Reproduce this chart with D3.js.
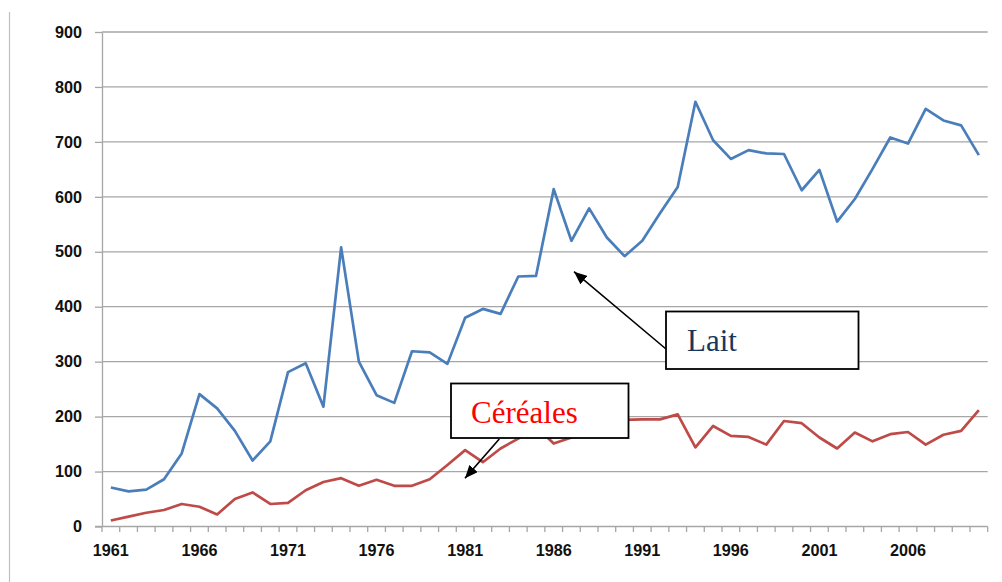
<!DOCTYPE html>
<html>
<head>
<meta charset="utf-8">
<script src="https://cdn.jsdelivr.net/npm/d3@7/dist/d3.min.js"></script>
<style>
  html, body { margin: 0; padding: 0; background: #fff; }
  svg { display: block; }
</style>
</head>
<body>
<svg id="chart" width="1002" height="582"></svg>
<script>
// ---- Data ----
const years = d3.range(1961, 2011);
const tickYears = [1961, 1966, 1971, 1976, 1981, 1986, 1991, 1996, 2001, 2006];
const yTicks = [0, 100, 200, 300, 400, 500, 600, 700, 800, 900];

const lait = [71, 64, 67, 86, 133, 241, 215, 174, 120, 155,
              281, 297, 218, 508, 300, 239, 225, 319, 317, 296,
              380, 396, 387, 455, 456, 614, 520, 579, 526, 492,
              520, 570, 618, 773, 703, 669, 685, 679, 678, 612,
              649, 555, 596, 651, 708, 697, 760, 739, 730, 676];

const cereales = [11, 18, 25, 30, 41, 36, 22, 50, 62, 41,
                  43, 66, 81, 88, 74, 85, 74, 74, 86, 112,
                  139, 117, 142, 160, 182, 151, 162, 173, 188, 194,
                  195, 195, 204, 144, 183, 165, 163, 149, 192, 188,
                  162, 142, 171, 155, 168, 172, 149, 167, 174, 212];

const seriesNames = ["Lait", "Céréales"];

// ---- Layout ----
const svg = d3.select("#chart");
const mLeft = 102, mRight = 987.7, mTop = 32, mBottom = 526.5;

const x = d3.scaleBand().domain(years).range([mLeft, mRight]).paddingInner(0).paddingOuter(0);
const xc = d => x(d) + x.bandwidth() / 2;
const y = d3.scaleLinear().domain([0, 900]).range([mBottom, mTop]);

const gridColor = "#a6a6a6";
const tickFont = 16.2;

// outer frame fragment (left)
svg.append("line").attr("x1", 9.5).attr("x2", 9.5).attr("y1", 12).attr("y2", 582)
   .attr("stroke", "#bfbfbf").attr("stroke-width", 1.2);

// y axis + ticks
const yAxis = d3.axisLeft(y).tickValues(yTicks).tickSize(7).tickPadding(13).tickSizeOuter(0);
const gy = svg.append("g").attr("transform", `translate(${mLeft},0)`).call(yAxis);
gy.select(".domain").attr("stroke", gridColor).attr("stroke-width", 1.3);
gy.selectAll(".tick line").attr("stroke", gridColor).attr("stroke-width", 1.3);
gy.selectAll(".tick text")
  .attr("font-family", "Liberation Sans, Arial, sans-serif")
  .attr("font-weight", "bold").attr("font-size", tickFont).attr("fill", "#111");

// gridlines
svg.append("g").selectAll("line").data(yTicks.filter(v => v > 0)).join("line")
  .attr("x1", mLeft).attr("x2", mRight)
  .attr("y1", d => y(d)).attr("y2", d => y(d))
  .attr("stroke", gridColor).attr("stroke-width", 1.3);

// x axis: ticks at category boundaries
const boundaries = years.map(yr => x(yr)).concat([mRight]);
svg.append("line").attr("x1", mLeft - 7).attr("x2", mRight).attr("y1", mBottom).attr("y2", mBottom)
   .attr("stroke", gridColor).attr("stroke-width", 1.3);
svg.append("g").selectAll("line").data(boundaries).join("line")
  .attr("x1", d => d).attr("x2", d => d).attr("y1", mBottom).attr("y2", mBottom + 5.5)
  .attr("stroke", gridColor).attr("stroke-width", 1.3);

const xAxis = d3.axisBottom(x).tickValues(tickYears).tickSize(0).tickPadding(17.5).tickFormat(d3.format("d"));
const gx = svg.append("g").attr("transform", `translate(0,${mBottom})`).call(xAxis);
gx.select(".domain").remove();
gx.selectAll(".tick text")
  .attr("font-family", "Liberation Sans, Arial, sans-serif")
  .attr("font-weight", "bold").attr("font-size", tickFont).attr("fill", "#111");

// lines
const line = d3.line().x((d, i) => xc(years[i])).y(d => y(d));
svg.append("path").datum(lait).attr("d", line)
  .attr("fill", "none").attr("stroke", "#4a7ebb").attr("stroke-width", 2.7).attr("stroke-linejoin", "round");
svg.append("path").datum(cereales).attr("d", line)
  .attr("fill", "none").attr("stroke", "#be4b48").attr("stroke-width", 2.7).attr("stroke-linejoin", "round");

// arrow marker
const defs = svg.append("defs");
defs.append("marker").attr("id", "arrow").attr("viewBox", "0 0 10 10")
  .attr("refX", 10).attr("refY", 5).attr("markerWidth", 13).attr("markerHeight", 11)
  .attr("markerUnits", "userSpaceOnUse").attr("orient", "auto").attr("preserveAspectRatio", "none")
  .append("path").attr("d", "M0,0 L10,5 L0,10 z").attr("fill", "#000");

// Lait annotation
svg.append("line").attr("x1", 666).attr("y1", 349).attr("x2", 574).attr("y2", 271.7)
  .attr("stroke", "#000").attr("stroke-width", 1.6).attr("marker-end", "url(#arrow)");
svg.append("rect").attr("x", 666).attr("y", 311.5).attr("width", 192.5).attr("height", 57.5)
  .attr("fill", "#fff").attr("stroke", "#000").attr("stroke-width", 1.8);
svg.append("text").attr("x", 687).attr("y", 351).text(seriesNames[0])
  .attr("font-family", "Liberation Serif, Times New Roman, serif").attr("font-size", 31)
  .attr("fill", "#17375e");

// Céréales annotation
svg.append("line").attr("x1", 499.3).attr("y1", 439).attr("x2", 465).attr("y2", 478.3)
  .attr("stroke", "#000").attr("stroke-width", 1.6).attr("marker-end", "url(#arrow)");
svg.append("rect").attr("x", 451).attr("y", 383.5).attr("width", 177.5).attr("height", 54.5)
  .attr("fill", "#fff").attr("stroke", "#000").attr("stroke-width", 1.8);
svg.append("text").attr("x", 471).attr("y", 422.5).text(seriesNames[1])
  .attr("font-family", "Liberation Serif, Times New Roman, serif").attr("font-size", 31)
  .attr("fill", "#ff0000");
</script>
</body>
</html>
